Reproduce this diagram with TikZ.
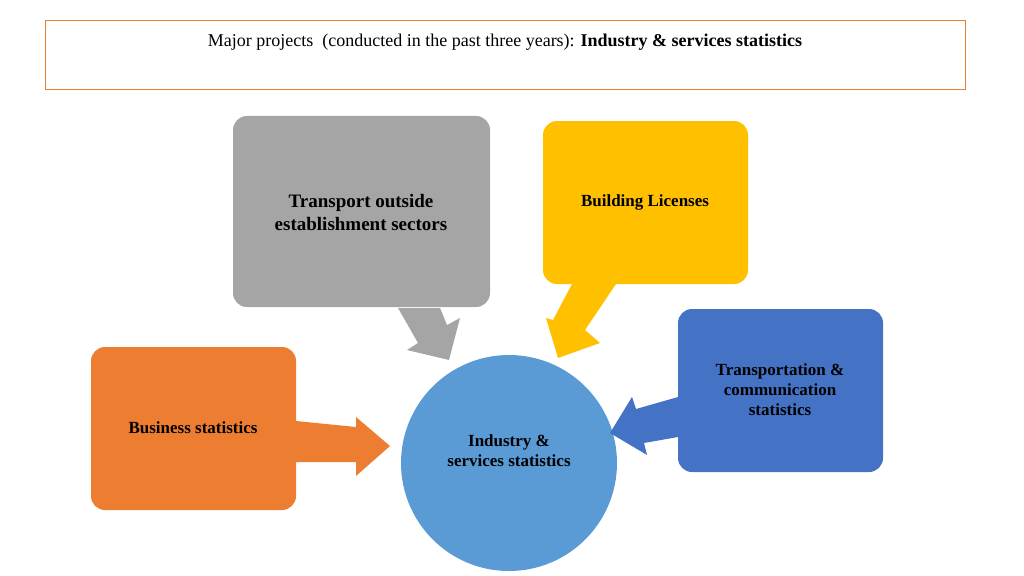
\documentclass[tikz,border=0pt]{standalone}
\usepackage{fontspec}
\setmainfont{Liberation Serif}
\begin{document}
\begin{tikzpicture}[x=1pt,y=-1pt,
 box/.style={rounded corners=14pt},
 lbl/.style={font=\bfseries\fontsize{17}{20}\selectfont,align=center,text=black}]
\useasboundingbox (0,0) rectangle (1024,575);
\definecolor{cgray}{HTML}{A5A5A5}
\definecolor{cyel}{HTML}{FFC000}
\definecolor{cblue}{HTML}{4472C4}
\definecolor{cor}{HTML}{ED7D31}
\definecolor{clb}{HTML}{5B9BD5}
\node[draw=cor,line width=0.8pt,minimum width=920pt,minimum height=69pt,anchor=north west] (title) at (45,20) {};
\node[font=\fontsize{18}{21}\selectfont] (tt) at (505,42) {Major projects\ \ (conducted in the past three years): \textbf{Industry \& services statistics}};
\fill[cgray,box] (233,116) rectangle (490,307);
\node[lbl,font=\bfseries\fontsize{19}{23}\selectfont] (g) at (361,212) {Transport outside\\establishment sectors};
\fill[cyel,box] (543,121) rectangle (748,284);
\node[lbl] (y) at (645,202) {Building Licenses};
\fill[cblue,box] (678,309) rectangle (883,472);
\node[lbl] (b) at (780,390) {Transportation \&\\communication\\statistics};
\fill[cor,box] (91,347) rectangle (296,510);
\node[lbl] (o) at (193,428) {Business statistics};
\fill[clb] (509,463) circle (108);
\node[lbl] (c) at (509,451) {Industry \&\\services statistics};
\fill[cgray] (398,308)--(440,308)--(447,325)--(460,318)--(449,360)--(407,350)--(418,343)--cycle;
\fill[cyel] (572,284)--(616,284)--(585,330)--(600,343)--(558,358)--(546,318)--(553,320)--cycle;
\fill[cblue] (678,397)--(636,409)--(632,397)--(610,433)--(647,455)--(644,443)--(678,437)--cycle;
\fill[cor] (296,421)--(356,427)--(356,417)--(390,446)--(356,476)--(356,462)--(296,462)--cycle;
\end{tikzpicture}
\end{document}
